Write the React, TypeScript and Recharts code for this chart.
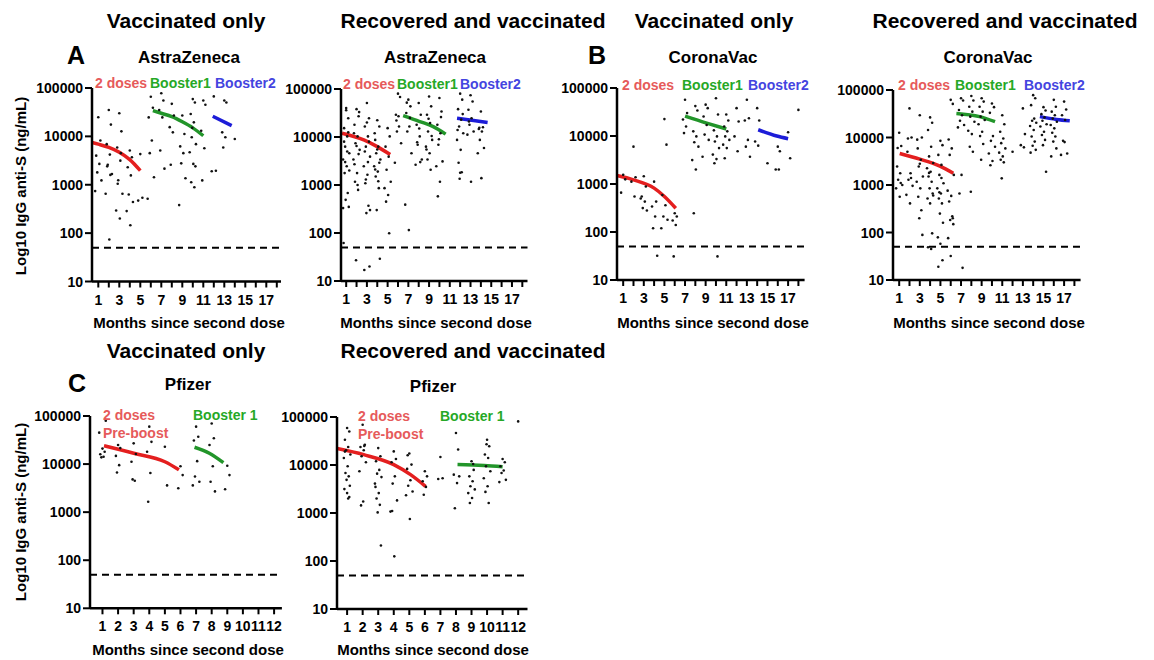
import React from 'react';
import { ComposedChart, Scatter, Line, XAxis, YAxis, ReferenceLine } from 'recharts';

const FONT = '"Liberation Sans", Arial, Helvetica, sans-serif';
const RED = '#e41f1f';
const GREEN = '#22952a';
const BLUE = '#1c1cd8';
const RED_TXT = '#e65a5a';
const GREEN_TXT = '#26a826';
const BLUE_TXT = '#4444e0';

const Y_TICKS = [10, 100, 1000, 10000, 100000];
const LOD = 50;
const MONTHS_18 = [1, 2, 3, 4, 5, 6, 7, 8, 9, 10, 11, 12, 13, 14, 15, 16, 17, 18];
const MONTHS_12 = [1, 2, 3, 4, 5, 6, 7, 8, 9, 10, 11, 12];

// horizontal spread of dots inside a month column (prism-like)
const JITTER = [0, 0.2, -0.2, 0.1, -0.1, 0.3, -0.3, 0.05, -0.15, 0.15, -0.05, 0.25, -0.25];

type Col = [number, number[]];
type Pt = { x: number; y: number };

// A: AstraZeneca, vaccinated only
const azVaxCols: Col[] = [
  [1, [24800, 8200, 4000, 2700, 1800, 1230, 740]],
  [2, [35000, 17500, 6900, 4200, 2600, 1670, 650, 74, 2400, 1600]],
  [3, [30000, 12700, 5900, 3150, 1240, 650, 293, 200, 1050, 4500]],
  [4, [5100, 3700, 2300, 1560, 630, 440, 285, 145]],
  [5, [4300, 540, 470]],
  [6, [66000, 39000, 24700, 8200, 4500, 1430, 515]],
  [7, [78000, 55000, 35000, 24700, 5100, 2150]],
  [8, [47000, 27000, 15500, 12100, 2600]],
  [9, [27000, 11200, 6200, 4500, 2770, 1360, 380]],
  [10, [59000, 50000, 29000, 19500, 9600, 6900, 4700, 2700, 1130, 890, 15000, 2400]],
  [11, [55000, 45000, 13100, 5700, 1230]],
  [12, [67000, 1950, 1900]],
  [13, [55000, 50000, 12100, 9600, 5900]],
  [14, [8800]],
];
const azVaxDoses: Pt[] = [{ x: 0.4, y: 7500 }, { x: 1, y: 6900 }, { x: 2, y: 5900 }, { x: 3, y: 4700 }, { x: 4, y: 3300 }, { x: 5, y: 1950 }];
const azVaxB1: Pt[] = [{ x: 6.2, y: 34000 }, { x: 7, y: 30000 }, { x: 8, y: 25500 }, { x: 9, y: 20000 }, { x: 10, y: 15000 }, { x: 11, y: 10300 }];
const azVaxB2: Pt[] = [{ x: 11.9, y: 26000 }, { x: 13.7, y: 16700 }];

// A: AstraZeneca, recovered and vaccinated
const azRecCols: Col[] = [
  [1, [40000, 24500, 15300, 10300, 6300, 4600, 3400, 2450, 1770, 680, 490, 350, 62, 36000, 12500, 8000, 5000, 3000, 2000, 330]],
  [2, [38000, 27000, 18000, 10300, 7400, 5400, 3400, 1770, 1170, 790, 27, 33000, 12000, 6500, 4400, 2700, 1000]],
  [3, [51000, 24500, 16500, 10300, 6300, 3900, 2450, 1630, 1090, 370, 260, 20, 17, 20000, 8000, 5000, 3000, 1300, 300]],
  [4, [22300, 16500, 8700, 6300, 4600, 3400, 2450, 1900, 1500, 860, 300, 29, 12000, 5500, 2900, 2100, 1200]],
  [5, [15300, 10300, 6300, 3900, 2080, 1170, 860, 620, 450, 99]],
  [6, [80000, 68000, 29000, 16500, 13000, 7400, 2900, 27000, 22000]],
  [7, [60000, 43500, 31600, 16500, 13000, 4600, 390, 115, 52000, 25000]],
  [8, [51000, 29000, 18000, 10300, 6900, 3400, 2650, 15000, 7800, 3000]],
  [9, [70000, 43500, 29000, 19500, 13000, 8700, 6300, 4600, 3400, 2080, 24000, 10500, 5500]],
  [10, [65000, 34000, 18000, 12000, 6900, 3100, 2450, 1170, 580, 26000, 9000]],
  [12, [80000, 60000, 38000, 23000, 16500, 12000, 8700, 5400, 2900, 1850, 1350, 30000, 14000, 1800]],
  [13, [74000, 55000, 37000, 24500, 18000, 13000, 11200, 1170, 21000]],
  [14, [34000, 16000, 14700, 13000, 8700, 5900, 4600, 1390, 15500]],
];
const azRecDoses: Pt[] = [{ x: 0.6, y: 12000 }, { x: 2.7, y: 8700 }, { x: 4, y: 6300 }, { x: 5.25, y: 4300 }];
const azRecB1: Pt[] = [{ x: 6.5, y: 27800 }, { x: 8.1, y: 21000 }, { x: 9.4, y: 16500 }, { x: 10.6, y: 11500 }];
const azRecB2: Pt[] = [{ x: 11.7, y: 24500 }, { x: 13.3, y: 22000 }, { x: 14.65, y: 20000 }];

// B: CoronaVac, vaccinated only
const cvVaxCols: Col[] = [
  [1, [1550, 1250, 660]],
  [2, [6000, 1380, 1120, 550]],
  [3, [1450, 890, 550, 430, 315, 280, 500]],
  [4, [1120, 430, 340, 210, 120, 32]],
  [5, [22500, 6600, 590, 360, 210, 180, 120]],
  [6, [245, 210, 174, 140, 31]],
  [7, [57000, 30000, 22000, 15800, 11500]],
  [8, [42000, 34000, 12500, 9800, 7400, 6000, 3150, 2000, 245]],
  [9, [45000, 38000, 25500, 17000, 10700, 8300, 3700]],
  [10, [61000, 28000, 13100, 9800, 7700, 5600, 4100, 3300, 2700, 31]],
  [11, [28000, 21000, 15800, 12500, 9800, 8300, 6600, 5600, 3450]],
  [12, [38000, 20000, 9800, 4800]],
  [13, [57000, 23500, 21000, 8300, 6000, 3700]],
  [14, [38000, 21000, 7700, 6300]],
  [15, [2700]],
  [16, [6000, 4800, 2000, 2000]],
  [17, [12000, 3450]],
  [18, [35000]],
];
const cvVaxDoses: Pt[] = [{ x: 0.4, y: 1500 }, { x: 2, y: 1220 }, { x: 4, y: 820 }, { x: 5, y: 550 }, { x: 6.1, y: 313 }];
const cvVaxB1: Pt[] = [{ x: 7, y: 26000 }, { x: 9.1, y: 18600 }, { x: 11, y: 14000 }];
const cvVaxB2: Pt[] = [{ x: 14.1, y: 13500 }, { x: 15.9, y: 10000 }, { x: 17, y: 8800 }];

// B: CoronaVac, recovered and vaccinated
const cvRecCols: Col[] = [
  [1, [12600, 6600, 2450, 1770, 1290, 1000, 850, 565, 6000, 1100]],
  [2, [41000, 10000, 5000, 1770, 1290, 960, 620, 410, 9500, 1400]],
  [3, [29500, 10000, 5900, 3400, 2450, 1510, 1170, 850, 565, 295, 200, 89, 9000, 2800]],
  [4, [26500, 20500, 14400, 6400, 4000, 2900, 2250, 1900, 1510, 1170, 850, 660, 520, 410, 96, 49, 45, 1800, 600]],
  [5, [8500, 6900, 4300, 2650, 1630, 1090, 850, 660, 520, 410, 250, 160, 79, 58, 26, 19, 1400, 700]],
  [6, [62000, 51000, 9100, 5900, 4300, 1630, 760, 590, 450, 220, 183, 150, 76, 32, 200]],
  [7, [67000, 60000, 38000, 29500, 22600, 18300, 16300, 1630, 660, 18]],
  [8, [75000, 60000, 44500, 35000, 27500, 21500, 13900, 11800, 6400, 5000, 720]],
  [9, [67000, 57000, 44500, 35000, 27500, 23300, 19000, 13200, 10700, 7300, 3400]],
  [10, [52000, 43500, 33000, 10700, 8500, 6400, 4600, 3200, 2600]],
  [11, [29500, 19000, 13200, 9500, 7600, 5900, 4800, 4000, 3400, 3000, 1380]],
  [12, [5000]],
  [13, [41000, 11800, 6900, 6200]],
  [14, [78000, 67000, 48000, 25000, 22600, 20500, 17500, 14400, 10500, 8200, 6700, 5500, 4800]],
  [15, [43500, 37000, 31000, 26500, 22600, 19000, 17000, 13200, 11300, 8900, 6900, 1900]],
  [16, [62000, 44500, 35000, 29500, 25000, 21500, 18300, 15600, 12600, 10500, 8200, 5900, 4000]],
  [17, [57000, 39000, 29500, 23300, 8500, 4600, 4300, 8000]],
];
const cvRecDoses: Pt[] = [{ x: 1.05, y: 4600 }, { x: 3, y: 3500 }, { x: 4.95, y: 2500 }, { x: 6.25, y: 1770 }];
const cvRecB1: Pt[] = [{ x: 6.55, y: 32000 }, { x: 8.8, y: 27500 }, { x: 10.3, y: 21500 }];
const cvRecB2: Pt[] = [{ x: 14.65, y: 27500 }, { x: 16.25, y: 24000 }, { x: 17.55, y: 22500 }];

// C: Pfizer, vaccinated only
const pfVaxCols: Col[] = [
  [1, [21000, 18000, 16000, 14200, 13800, 80000, 45000]],
  [2, [25000, 21500, 14800, 9500, 6700]],
  [3, [27000, 16200, 11200, 4500, 4800]],
  [4, [60000, 29000, 18000, 6500, 1650]],
  [5, [23000, 3600]],
  [6, [9000, 5900, 3150]],
  [7, [60000, 37000, 31000, 11500, 5500, 4300, 3600]],
  [8, [70000, 34500, 25000, 9000, 4300, 2700]],
  [9, [9200, 5900, 3000]],
];
const pfVaxDoses: Pt[] = [{ x: 1.1, y: 24000 }, { x: 3, y: 16800 }, { x: 5, y: 11200 }, { x: 5.9, y: 7600 }];
const pfVaxB1: Pt[] = [{ x: 6.9, y: 22400 }, { x: 7.85, y: 16800 }, { x: 8.75, y: 10700 }];

// C: Pfizer, recovered and vaccinated
const pfRecCols: Col[] = [
  [1, [59000, 50000, 33500, 23700, 20300, 16500, 14000, 9400, 6800, 5800, 4900, 3700, 3150, 2600, 2150, 19000, 2000]],
  [2, [69000, 26500, 23700, 20300, 15200, 11400, 7400, 1740, 1440, 25000]],
  [3, [22500, 15200, 12000, 7900, 6600, 5600, 4100, 2600, 2000, 1480, 1030, 210, 3500]],
  [4, [19200, 13300, 11400, 5800, 4100, 1830, 1070, 125, 1100]],
  [5, [17300, 10200, 8300, 4800, 3700, 2800, 2350, 750, 16000]],
  [6, [7400, 5800, 4600, 3500, 2400]],
  [7, [14700, 5300, 5100]],
  [8, [46500, 21000, 6300, 4200, 1260, 5800]],
  [9, [12000, 7900, 5800, 4600, 3600, 3100, 2600, 2050, 1620, 10500]],
  [10, [33500, 24500, 16500, 14000, 9400, 7400, 5300, 3600, 2750, 1620, 27000]],
  [11, [13300, 11400, 9400, 7700, 6800, 4900, 4400]],
  [12, [81000]],
];
const pfRecDoses: Pt[] = [{ x: 0.36, y: 22000 }, { x: 2.07, y: 16400 }, { x: 4, y: 10200 }, { x: 5.08, y: 6300 }, { x: 6.04, y: 3600 }];
const pfRecB1: Pt[] = [{ x: 8.1, y: 10200 }, { x: 9.8, y: 9800 }, { x: 11, y: 9200 }];

function toPoints(cols: Col[], spread: number): Pt[] {
  const out: Pt[] = [];
  cols.forEach(([m, vals]) =>
    vals.forEach((v, i) => out.push({ x: m + JITTER[i % JITTER.length] * spread, y: v }))
  );
  return out;
}

const Dot = (p: any) => <circle cx={p.cx} cy={p.cy} r={1.3} fill="#111" />;

type Rect = { x: number; y: number; w: number; h: number };
type Curve = { data: Pt[]; color: string };

const ML = 60;
const MT = 10;
const MR = 10;
const XH = 40;

function Panel(props: {
  rect: Rect;
  domain: [number, number];
  ticks: number[];
  oddOnly: boolean;
  points: Pt[];
  curves: Curve[];
}) {
  const { rect, domain, ticks, oddOnly, points, curves } = props;
  const tickStyle = { fontFamily: FONT, fontWeight: 700, fontSize: 14, fill: '#000' };
  return (
    <div style={{ position: 'absolute', left: rect.x - ML, top: rect.y - MT }}>
      <ComposedChart
        width={rect.w + ML + MR}
        height={rect.h + MT + XH}
        margin={{ top: MT, right: MR, bottom: 0, left: 0 }}
      >
        <XAxis
          type="number"
          dataKey="x"
          domain={domain}
          allowDataOverflow
          ticks={ticks}
          interval={0}
          height={XH}
          tickSize={6}
          tickMargin={7}
          axisLine={{ stroke: '#000', strokeWidth: 2.5 }}
          tickLine={{ stroke: '#000', strokeWidth: 2 }}
          tick={(t: any) => (
            <text x={t.x} y={t.y} dy="0.72em" textAnchor="middle" style={tickStyle}>
              {oddOnly && t.payload.value % 2 === 0 ? '' : t.payload.value}
            </text>
          )}
        />
        <YAxis
          type="number"
          dataKey="y"
          scale="log"
          domain={[10, 100000]}
          allowDataOverflow
          ticks={Y_TICKS}
          interval={0}
          width={ML}
          tickSize={7}
          tickMargin={2}
          axisLine={{ stroke: '#000', strokeWidth: 2.5 }}
          tickLine={{ stroke: '#000', strokeWidth: 2 }}
          tick={(t: any) => (
            <text x={t.x} y={t.y} dy="0.36em" textAnchor="end" style={tickStyle}>
              {t.payload.value}
            </text>
          )}
        />
        <ReferenceLine y={LOD} stroke="#000" strokeWidth={2} strokeDasharray="7 5" />
        <Scatter data={points} dataKey="y" shape={Dot} isAnimationActive={false} />
        {curves.map((c, i) => (
          <Line
            key={i}
            data={c.data}
            dataKey="y"
            type="monotone"
            stroke={c.color}
            strokeWidth={3.5}
            dot={false}
            activeDot={false}
            isAnimationActive={false}
          />
        ))}
      </ComposedChart>
    </div>
  );
}

type Txt = { t: string; x: number; y: number; size: number; color?: string; anchor?: 'start' | 'middle' | 'end'; rot?: boolean };

const texts: Txt[] = [
  { t: 'Vaccinated only', x: 186, y: 28, size: 21, anchor: 'middle' },
  { t: 'Recovered and vaccinated', x: 473, y: 28, size: 21, anchor: 'middle' },
  { t: 'Vaccinated only', x: 714, y: 28, size: 21, anchor: 'middle' },
  { t: 'Recovered and vaccinated', x: 1005, y: 28, size: 21, anchor: 'middle' },
  { t: 'Vaccinated only', x: 186, y: 358, size: 21, anchor: 'middle' },
  { t: 'Recovered and vaccinated', x: 473, y: 358, size: 21, anchor: 'middle' },
  { t: 'A', x: 67, y: 64, size: 25 },
  { t: 'B', x: 588, y: 64, size: 25 },
  { t: 'C', x: 68, y: 392, size: 25 },
  { t: 'AstraZeneca', x: 189, y: 63, size: 17, anchor: 'middle' },
  { t: 'AstraZeneca', x: 435, y: 63, size: 17, anchor: 'middle' },
  { t: 'CoronaVac', x: 713, y: 63, size: 17, anchor: 'middle' },
  { t: 'CoronaVac', x: 988, y: 63, size: 17, anchor: 'middle' },
  { t: 'Pfizer', x: 188, y: 390, size: 17, anchor: 'middle' },
  { t: 'Pfizer', x: 433, y: 392, size: 17, anchor: 'middle' },
  { t: '2 doses', x: 95, y: 88, size: 14, color: RED_TXT },
  { t: 'Booster1', x: 150, y: 88, size: 14, color: GREEN_TXT },
  { t: 'Booster2', x: 215, y: 88, size: 14, color: BLUE_TXT },
  { t: '2 doses', x: 343, y: 89, size: 14, color: RED_TXT },
  { t: 'Booster1', x: 397, y: 89, size: 14, color: GREEN_TXT },
  { t: 'Booster2', x: 460, y: 89, size: 14, color: BLUE_TXT },
  { t: '2 doses', x: 622, y: 90, size: 14, color: RED_TXT },
  { t: 'Booster1', x: 682, y: 90, size: 14, color: GREEN_TXT },
  { t: 'Booster2', x: 748, y: 90, size: 14, color: BLUE_TXT },
  { t: '2 doses', x: 898, y: 90, size: 14, color: RED_TXT },
  { t: 'Booster1', x: 955, y: 90, size: 14, color: GREEN_TXT },
  { t: 'Booster2', x: 1024, y: 90, size: 14, color: BLUE_TXT },
  { t: '2 doses', x: 103, y: 420, size: 14, color: RED_TXT },
  { t: 'Pre-boost', x: 103, y: 438, size: 14, color: RED_TXT },
  { t: 'Booster 1', x: 193, y: 420, size: 14, color: GREEN_TXT },
  { t: '2 doses', x: 358, y: 421, size: 14, color: RED_TXT },
  { t: 'Pre-boost', x: 358, y: 439, size: 14, color: RED_TXT },
  { t: 'Booster 1', x: 440, y: 421, size: 14, color: GREEN_TXT },
  { t: 'Months since second dose', x: 189, y: 328, size: 15, anchor: 'middle' },
  { t: 'Months since second dose', x: 436, y: 328, size: 15, anchor: 'middle' },
  { t: 'Months since second dose', x: 713, y: 328, size: 15, anchor: 'middle' },
  { t: 'Months since second dose', x: 989, y: 328, size: 15, anchor: 'middle' },
  { t: 'Months since second dose', x: 188, y: 655, size: 15, anchor: 'middle' },
  { t: 'Months since second dose', x: 433, y: 655, size: 15, anchor: 'middle' },
  { t: 'Log10 IgG anti-S (ng/mL)', x: 26, y: 186, size: 15, anchor: 'middle', rot: true },
  { t: 'Log10 IgG anti-S (ng/mL)', x: 26, y: 512, size: 15, anchor: 'middle', rot: true },
];

export default function App() {
  return (
    <div style={{ position: 'absolute', left: 0, top: 0, width: 1154, height: 660, background: '#fff' }}>
      <Panel
        rect={{ x: 92, y: 87.5, w: 189, h: 193.5 }}
        domain={[0.4, 18.4]}
        ticks={MONTHS_18}
        oddOnly
        points={toPoints(azVaxCols, 1)}
        curves={[{ data: azVaxDoses, color: RED }, { data: azVaxB1, color: GREEN }, { data: azVaxB2, color: BLUE }]}
      />
      <Panel
        rect={{ x: 341, y: 89, w: 186.5, h: 192 }}
        domain={[0.5, 18.5]}
        ticks={MONTHS_18}
        oddOnly
        points={toPoints(azRecCols, 1)}
        curves={[{ data: azRecDoses, color: RED }, { data: azRecB1, color: GREEN }, { data: azRecB2, color: BLUE }]}
      />
      <Panel
        rect={{ x: 617, y: 88, w: 187.6, h: 192 }}
        domain={[0.4, 18.6]}
        ticks={MONTHS_18}
        oddOnly
        points={toPoints(cvVaxCols, 1)}
        curves={[{ data: cvVaxDoses, color: RED }, { data: cvVaxB1, color: GREEN }, { data: cvVaxB2, color: BLUE }]}
      />
      <Panel
        rect={{ x: 893, y: 90, w: 187.6, h: 190 }}
        domain={[0.4, 18.6]}
        ticks={MONTHS_18}
        oddOnly
        points={toPoints(cvRecCols, 1)}
        curves={[{ data: cvRecDoses, color: RED }, { data: cvRecB1, color: GREEN }, { data: cvRecB2, color: BLUE }]}
      />
      <Panel
        rect={{ x: 90, y: 416, w: 191.9, h: 192.3 }}
        domain={[0.2, 12.5]}
        ticks={MONTHS_12}
        oddOnly={false}
        points={toPoints(pfVaxCols, 0.7)}
        curves={[{ data: pfVaxDoses, color: RED }, { data: pfVaxB1, color: GREEN }]}
      />
      <Panel
        rect={{ x: 337, y: 417.3, w: 190.5, h: 192 }}
        domain={[0.35, 12.6]}
        ticks={MONTHS_12}
        oddOnly={false}
        points={toPoints(pfRecCols, 0.7)}
        curves={[{ data: pfRecDoses, color: RED }, { data: pfRecB1, color: GREEN }]}
      />
      <svg
        width={1154}
        height={660}
        style={{ position: 'absolute', left: 0, top: 0, pointerEvents: 'none' }}
      >
        {texts.map((d, i) => (
          <text
            key={i}
            x={d.rot ? 0 : d.x}
            y={d.rot ? 0 : d.y}
            transform={d.rot ? `translate(${d.x},${d.y}) rotate(-90)` : undefined}
            textAnchor={d.anchor || 'start'}
            fill={d.color || '#000'}
            style={{ fontFamily: FONT, fontWeight: 700, fontSize: d.size }}
          >
            {d.t}
          </text>
        ))}
      </svg>
    </div>
  );
}
